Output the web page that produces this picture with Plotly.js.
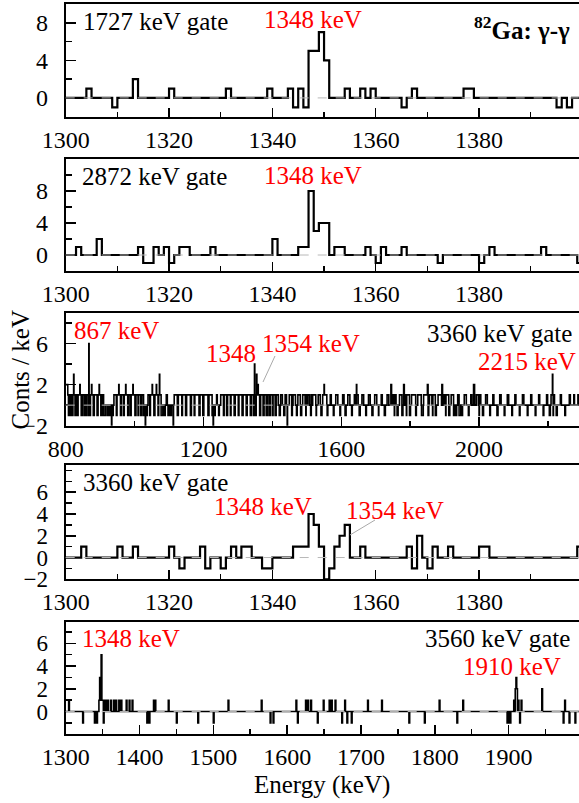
<!DOCTYPE html>
<html>
<head>
<meta charset="utf-8">
<script src="https://cdn.plot.ly/plotly-3.0.1.min.js"></script>
<style>
html,body{margin:0;padding:0;overflow:hidden;background:#fff;width:579px;height:803px;}
#chart{width:584px;height:803px;}
</style>
</head>
<body>
<div id="chart"></div>
<script>
// ---------- DATA (counts per 1 keV bin, only non-zero bins listed) ----------
// Panel 1: 1727 keV gate
const p1E = [1304,1309,1313,1320,1331,1339,1343,1344,1345,1346,1347,1348,1349,1350,1354,1357,1359,1365,1367,1377,1378,1395,1397];
const p1C = [1,-1,2,1,1,1,1,-1,1,-1,5,5,7,4,1,1,1,-1,1,1,1,-1,-1];
// Panel 2: 2872 keV gate
const p2E = [1302,1306,1314,1315,1316,1317,1319,1320,1322,1323,1328,1340,1345,1346,1347,1348,1349,1350,1352,1353,1358,1360,1361,1365,1372,1380,1382,1392,1399];
const p2C = [1,2,1,-1,-1,1,1,-1,1,1,1,2,1,1,8,3,4,4,1,1,1,-1,1,1,-1,-1,1,1,-1];
// Panel 3: 3360 keV gate, wide range (runs of equal counts: from, to, counts)
const p3Lo = [800,806,808,810,813,816,820,821,823,824,827,830,834,836,841,842,845,848,853,855,858,860,865,866,867,868,869,872,875,876,880,883,891,894,897,898,902,906,910,920,928,933,936,940,947,949,954,955,959,962,968,970,974,975,980,983,988,990,995,996,1001,1004,1010,1012,1018,1021,1026,1031,1033,1039,1044,1046,1051,1052,1056,1059,1063,1064,1068,1070,1072,1073,1077,1085,1092,1097,1104,1112,1115,1124,1127,1137,1139,1148,1151,1162,1165,1173,1175,1187,1190,1198,1201,1213,1216,1225,1228,1232,1238,1244,1250,1258,1260,1267,1270,1278,1280,1289,1292,1301,1303,1312,1315,1324,1327,1336,1339,1345,1347,1348,1349,1351,1353,1354,1355,1358,1359,1363,1366,1373,1376,1382,1385,1390,1394,1400,1402,1408,1411,1420,1424,1433,1437,1443,1449,1456,1460,1470,1474,1482,1488,1497,1503,1511,1517,1527,1533,1541,1546,1550,1551,1559,1568,1577,1584,1596,1604,1611,1619,1630,1638,1644,1645,1652,1660,1671,1679,1689,1697,1708,1716,1725,1733,1744,1750,1754,1755,1762,1769,1781,1786,1789,1790,1798,1804,1816,1822,1833,1839,1850,1856,1865,1866,1873,1881,1892,1899,1903,1904,1912,1919,1931,1938,1949,1957,1969,1976,1984,1992,2000,2001,2010,2019,2031,2040,2052,2060,2073,2082,2095,2104,2117,2126,2140,2150,2163,2173,2186,2196,2204,2209,2213,2214,2215,2216,2224,2236,2249,2262,2275,2287,
  1477,1498,1513,1522,1554,1794,1812,1828,1844,1869,1887,1908,1926,1942,1776,1836,1852,1894,1933,2064,2088];
const p3Hi = [805,807,809,812,815,819,820,822,823,826,829,833,835,840,841,844,847,852,854,857,859,864,865,866,867,868,871,874,875,879,882,890,893,896,897,901,905,909,914,923,929,933,937,946,948,953,954,958,961,967,969,973,974,979,982,987,989,994,995,1000,1003,1009,1011,1017,1020,1025,1028,1031,1036,1043,1045,1050,1051,1055,1058,1062,1063,1067,1069,1071,1072,1076,1081,1088,1094,1100,1106,1112,1123,1126,1136,1138,1147,1150,1161,1164,1172,1174,1186,1189,1197,1200,1212,1215,1224,1226,1228,1233,1239,1245,1257,1259,1266,1269,1277,1279,1288,1291,1300,1302,1311,1314,1323,1326,1335,1338,1344,1346,1347,1348,1350,1352,1353,1354,1357,1358,1362,1365,1372,1375,1381,1384,1389,1393,1399,1401,1407,1410,1416,1422,1428,1435,1440,1443,1455,1457,1466,1471,1476,1484,1494,1497,1507,1512,1521,1527,1538,1543,1549,1550,1553,1560,1570,1578,1589,1597,1607,1613,1624,1631,1640,1644,1648,1654,1664,1672,1683,1691,1702,1708,1718,1727,1737,1745,1753,1754,1758,1764,1775,1782,1788,1789,1793,1800,1811,1817,1827,1835,1843,1851,1862,1865,1868,1875,1886,1893,1902,1903,1907,1914,1925,1932,1941,1951,1962,1970,1978,1986,1997,2000,2004,2012,2023,2032,2042,2054,2063,2074,2085,2096,2106,2118,2129,2141,2152,2164,2175,2187,2198,2206,2212,2213,2214,2215,2218,2226,2238,2250,2264,2276,2289,
  1480,1501,1515,1525,1557,1797,1815,1831,1849,1872,1890,1911,1929,1946,1778,1837,1853,1895,1934,2066,2090];
const p3V = [2,1,-1,1,-1,1,-1,1,3,1,-1,1,-1,1,2,1,-1,1,-1,1,-1,1,-1,1,6,1,-1,1,2,1,-1,1,-1,1,2,1,-1,1,-1,-1,-1,-2,-1,1,-1,1,2,1,-1,1,-1,1,2,1,-1,1,-1,1,2,1,-1,1,-1,1,-1,1,-1,-2,-1,1,-1,1,2,1,-1,1,2,1,-1,1,3,1,-1,-1,1,-1,-1,-2,1,-1,1,-1,1,-1,1,-1,1,-1,1,-1,1,-1,1,-1,1,-1,-2,-1,1,-1,1,-1,1,-1,1,-1,1,-1,1,-1,1,-1,1,-1,1,-1,1,-1,1,4,1,-1,1,3,1,2,1,-1,1,-1,1,-1,1,-1,1,-1,1,-1,1,-1,1,-1,1,-2,1,-1,1,-1,1,-1,1,-1,1,-1,1,-1,1,-1,1,2,1,-1,1,-1,1,-1,1,-1,1,-1,1,2,1,-1,1,-1,1,-1,1,-1,1,-1,1,2,1,-1,1,-1,1,2,1,-1,1,-1,1,-1,1,-1,1,2,1,-1,1,-1,1,2,1,-1,1,-1,1,-1,1,-1,1,-1,1,2,1,-1,1,-1,1,-1,1,-1,1,-1,1,-1,1,-1,1,-1,1,-1,1,-1,1,-1,1,3,1,-1,1,-1,1,-1,1,
  1,1,1,1,1,1,1,1,1,1,1,1,1,1,-1,-1,-1,-1,-1,1,-1];
// Panel 4: 3360 keV gate, zoom
const p4E = [1303,1310,1313,1320,1322,1326,1327,1330,1332,1334,1335,1338,1339,1344,1345,1346,1347,1348,1349,1350,1351,1352,1353,1354,1357,1366,1367,1368,1370,1371,1374,1380,1381,1399];
const p4C = [1,1,1,1,-1,1,-1,-1,1,1,1,-1,-1,1,1,1,4,3,1,-2,-1,1,2,3,1,1,-1,2,-1,1,1,1,1,1];
// Panel 5: 3560 keV gate
const p5E = [1304,1323,1339,1342,1345,1346,1347,1348,1349,1350,1351,1352,1354,1357,1361,1365,1368,1372,1375,1382,1386,1390,1410,1413,1419,1421,1439,1450,1479,1500,1520,1565,1577,1581,1612,1614,1625,1628,1632,1641,1649,1657,1660,1665,1674,1678,1681,1687,1709,1728,1765,1786,1806,1830,1838,1898,1900,1902,1907,1909,1910,1911,1913,1915,1917,1945,1974,1976,1982,1990];
const p5C = [1,-1,-1,-1,1,3,1,5,1,1,-1,1,1,1,1,1,1,1,1,1,1,1,-1,-1,1,1,1,-1,-1,-1,1,1,-1,-1,1,-1,1,1,1,-1,1,1,1,1,-1,1,-1,-1,1,1,-1,-1,1,-1,1,-1,-1,-1,1,2,3,2,1,-1,1,2,-1,1,-1,-1];

// tick labels
const tx1 = [1300,1320,1340,1360,1380];
const tx3 = [800,1200,1600,2000];
const tx5 = [1300,1400,1500,1600,1700,1800,1900];

// ---------- helpers ----------
function hist(lo, hi, E, C) {
  const m = {};
  E.forEach((e, i) => { m[e] = (m[e] || 0) + C[i]; });
  const x = [], y = [];
  for (let e = lo; e < hi; e++) { x.push(e); y.push(m[e] || 0); }
  x.push(hi); y.push(y[y.length - 1]);
  return {x, y};
}
function runsToSparse(lo, hi, v) {
  const E = [], C = [];
  lo.forEach((a, i) => { for (let e = a; e <= hi[i]; e++) { E.push(e); C.push(v[i]); } });
  return {E, C};
}

const W = 584, H = 803;
const PX = x => x / W, PY = y => 1 - y / H;
const FONT = '"Liberation Serif", "Times New Roman", serif';

const panels = [
  {top: 4,     bot: 116.7, xr: [1300, 1400], yr: [-2, 10],  d: hist(1300, 1400, p1E, p1C)},
  {top: 159,   bot: 271,   xr: [1300, 1400], yr: [-2, 12],  d: hist(1300, 1400, p2E, p2C)},
  {top: 312.7, bot: 425.7, xr: [800, 2300],  yr: [-2, 9],   d: (() => { const s = runsToSparse(p3Lo, p3Hi, p3V); return hist(800, 2300, s.E, s.C); })()},
  {top: 465,   bot: 579.3, xr: [1300, 1400], yr: [-2, 8.5], d: hist(1300, 1400, p4E, p4C)},
  {top: 621.7, bot: 734.3, xr: [1300, 2000], yr: [-2, 7.9], d: hist(1300, 2000, p5E, p5C)}
];
const xTicks = [tx1, tx1, tx3, tx1, tx5];
const xMinor = [10, 10, 200, 10, 50];
const yTicks = [[0,4,8],[0,4,8],[-2,2,6],[-2,0,2,4,6],[0,2,4,6]];
const yMinor = [2, 2, 2, 1, 1];
const yFont = [24, 24, 24, 23, 23];
const lineW = [2.2, 2.2, 1.6, 2.2, 1.6];

const traces = [], layout = {
  width: W, height: H, margin: {l: 0, r: 0, t: 0, b: 0},
  paper_bgcolor: '#fff', plot_bgcolor: '#fff', showlegend: false,
  font: {family: FONT, size: 24, color: '#000'},
  shapes: [], annotations: []
};

panels.forEach((p, i) => {
  const s = i === 0 ? '' : String(i + 1);
  traces.push({
    type: 'scatter', mode: 'lines', x: p.d.x, y: p.d.y,
    xaxis: 'x' + s, yaxis: 'y' + s,
    line: {shape: 'hv', color: '#000', width: lineW[i]}, hoverinfo: 'skip'
  });
  const base = {showline: true, linewidth: 2, linecolor: '#000', mirror: true,
    ticks: 'inside', tickcolor: '#000', tickwidth: 1.5, zeroline: false, showgrid: false,
    fixedrange: true};
  layout['xaxis' + s] = Object.assign({}, base, {
    domain: [PX(65.7), PX(582.4)], range: p.xr, anchor: 'y' + s,
    tickfont: {family: FONT, size: 24, color: '#000'},
    tickmode: 'array', tickvals: xTicks[i], ticklen: 9, ticklabelstandoff: 0,
    minor: {ticks: 'inside', ticklen: 5, dtick: xMinor[i], tick0: p.xr[0], tickcolor: '#000', tickwidth: 1.5, showgrid: false}
  });
  layout['yaxis' + s] = Object.assign({}, base, {
    domain: [PY(p.bot), PY(p.top)], range: p.yr, anchor: 'x' + s,
    tickfont: {family: FONT, size: yFont[i], color: '#000'},
    tickmode: 'array', tickvals: yTicks[i], ticklen: 10, ticklabelstandoff: 11,
    minor: {ticks: 'inside', ticklen: 6, dtick: yMinor[i], tick0: 0, tickcolor: '#000', tickwidth: 1.5, showgrid: false}
  });
  layout.shapes.push({type: 'line', xref: 'x' + s + ' domain', yref: 'y' + s, x0: 0, x1: 1, y0: 0, y1: 0,
    line: {color: '#b8b8b8', width: 1, dash: 'dash'}});
});

// leader lines
layout.shapes.push({type: 'line', xref: 'paper', yref: 'paper', x0: PX(275), y0: PY(356), x1: PX(263), y1: PY(382), line: {color: '#aaa', width: 1}});
layout.shapes.push({type: 'line', xref: 'paper', yref: 'paper', x0: PX(375), y0: PY(520), x1: PX(350), y1: PY(535), line: {color: '#aaa', width: 1}});

function ann(text, x, y, xanchor, color, size, extra) {
  layout.annotations.push(Object.assign({text, x: PX(x), y: PY(y), xref: 'paper', yref: 'paper',
    xanchor, yanchor: 'middle', showarrow: false,
    font: {family: FONT, size: size || 25, color: color || '#000'}}, extra || {}));
}
const RED = '#ff0000';
ann('1727 keV gate', 81, 21.7, 'left');
ann('1348 keV', 262, 19.5, 'left', RED);
ann('<b><sup>82</sup>Ga: γ-γ</b>', 572, 28, 'right', '#000', 25);
ann('2872 keV gate', 80, 176.7, 'left');
ann('1348 keV', 262, 175, 'left', RED);
ann('867 keV', 72, 330, 'left', RED);
ann('3360 keV gate', 574, 333.3, 'right');
ann('1348', 258, 353.3, 'right', RED);
ann('1354 keV', 260, 343.3, 'left', RED);
ann('2215 keV', 578, 361.7, 'right', RED);
ann('3360 keV gate', 81, 482.7, 'left');
ann('1348 keV', 212, 506, 'left', RED);
ann('1354 keV', 344, 510, 'left', RED);
ann('1348 keV', 80, 638.3, 'left', RED);
ann('3560 keV gate', 572, 638.3, 'right');
ann('1910 keV', 563, 666, 'right', RED);
ann('Conts / keV', 19.5, 370, 'center', '#000', 25, {textangle: -90});
ann('Energy (keV)', 322.3, 785, 'center');

Plotly.newPlot('chart', traces, layout, {staticPlot: true, displayModeBar: false});
</script>
</body>
</html>
